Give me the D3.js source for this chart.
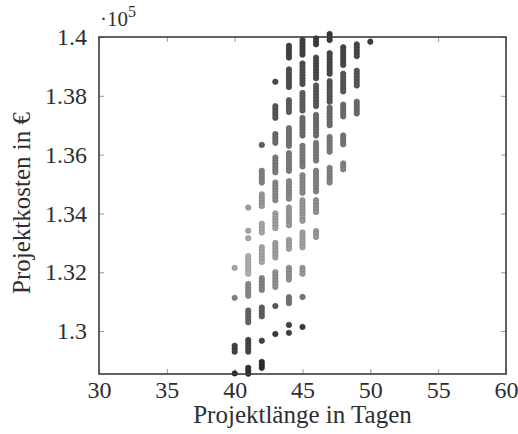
<!DOCTYPE html>
<html>
<head>
<meta charset="utf-8">
<script src="https://cdn.jsdelivr.net/npm/d3@7"></script>
<style>
  html, body { margin: 0; background: #fff; }
  svg text { font-family: "Liberation Serif", "Times New Roman", serif; fill: #2e2e2e; }
</style>
</head>
<body>
<svg id="chart" width="518" height="434"></svg>
<script>
// ----------------------------------------------------------
// Data (costs in thousand €, shade 0 = dark .. 1 = light)
// ----------------------------------------------------------

const X_TICKS = [30, 35, 40, 45, 50, 55, 60];
const Y_TICKS = [130, 132, 134, 136, 138, 140];
const X_LABEL = 'Projektlänge in Tagen';
const Y_LABEL = 'Projektkosten in €';

// [day, shade, costs...]
const col40 = [
  [40, 0.85, [132.15]],
  [40, 0.6, [131.13]],
  [40, 0.15, [129.5, 129.4, 129.3]],
  [40, 0.0, [128.56]],
];
const col41 = [
  [41, 0.8, [134.2]],
  [41, 0.85, [133.41, 133.16]],
  [41, 0.9, [132.55, 132.45, 132.35, 132.25, 132.15, 132.05, 131.95]],
  [41, 0.65, [131.6, 131.5, 131.4, 131.3, 131.2]],
  [41, 0.4, [130.7, 130.6, 130.5, 130.4, 130.3]],
  [41, 0.18, [129.7, 129.6, 129.5, 129.4, 129.3]],
  [41, 0.05, [128.75, 128.65, 128.55]],
];
const col42 = [
  [42, 0.35, [136.33]],
  [42, 0.6, [135.45, 135.35, 135.25, 135.15, 135.05]],
  [42, 0.75, [134.65, 134.55, 134.45, 134.35, 134.25]],
  [42, 0.85, [133.65, 133.55, 133.45, 133.35]],
  [42, 0.85, [132.85, 132.75, 132.65, 132.55, 132.45, 132.35]],
  [42, 0.6, [131.8, 131.7, 131.6, 131.5, 131.4]],
  [42, 0.35, [130.8, 130.7, 130.6, 130.5]],
  [42, 0.15, [129.67]],
  [42, 0.0, [128.95, 128.85, 128.75]],
];
const col43 = [
  [43, 0.2, [138.48]],
  [43, 0.3, [137.65, 137.55, 137.45, 137.35, 137.25]],
  [43, 0.45, [136.7, 136.6, 136.5, 136.4]],
  [43, 0.55, [135.9, 135.8, 135.7, 135.6, 135.5, 135.4]],
  [43, 0.65, [135.05, 134.95, 134.85, 134.75, 134.65, 134.55, 134.45]],
  [43, 0.8, [134.0, 133.9, 133.8, 133.7, 133.6, 133.5]],
  [43, 0.8, [133.0, 132.9, 132.8, 132.7, 132.6, 132.5]],
  [43, 0.7, [132.0, 131.9, 131.8, 131.7, 131.6, 131.5]],
  [43, 0.3, [130.85]],
  [43, 0.12, [129.9]],
];
const col44 = [
  [44, 0.15, [139.7, 139.6, 139.5, 139.4, 139.3]],
  [44, 0.25, [138.9, 138.8, 138.7, 138.6, 138.5, 138.4, 138.3]],
  [44, 0.35, [137.85, 137.75, 137.65, 137.55, 137.45]],
  [44, 0.5, [136.9, 136.8, 136.7, 136.6, 136.5, 136.4, 136.3]],
  [44, 0.55, [136.05, 135.95, 135.85, 135.75, 135.65, 135.55, 135.45]],
  [44, 0.65, [135.1, 135.0, 134.9, 134.8, 134.7, 134.6, 134.5]],
  [44, 0.75, [134.2, 134.1, 134.0, 133.9, 133.8, 133.7, 133.6]],
  [44, 0.8, [133.1, 133.0, 132.9, 132.8]],
  [44, 0.7, [132.15, 132.05, 131.95, 131.85, 131.75]],
  [44, 0.5, [131.15, 131.05, 130.95]],
  [44, 0.15, [130.21, 129.94]],
];
const col45 = [
  [45, 0.15, [139.9, 139.8, 139.7, 139.6, 139.5, 139.4]],
  [45, 0.25, [139.1, 139.0, 138.9, 138.8, 138.7, 138.6, 138.5, 138.4]],
  [45, 0.35, [138.1, 138.0, 137.9, 137.8, 137.7, 137.6, 137.5]],
  [45, 0.45, [137.25, 137.15, 137.05, 136.95, 136.85, 136.75, 136.65]],
  [45, 0.55, [136.3, 136.2, 136.1, 136.0, 135.9, 135.8, 135.7, 135.6]],
  [45, 0.65, [135.3, 135.2, 135.1, 135.0, 134.9, 134.8, 134.7]],
  [45, 0.75, [134.45, 134.35, 134.25, 134.15, 134.05, 133.95, 133.85, 133.75]],
  [45, 0.8, [133.35, 133.25, 133.15, 133.05, 132.95, 132.85]],
  [45, 0.75, [132.15, 132.05, 131.95]],
  [45, 0.5, [131.16]],
  [45, 0.12, [130.14]],
];
const col46 = [
  [46, 0.1, [139.95, 139.85, 139.75]],
  [46, 0.2, [139.3, 139.2, 139.1, 139.0, 138.9, 138.8, 138.7, 138.6]],
  [46, 0.3, [138.35, 138.25, 138.15, 138.05, 137.95, 137.85, 137.75, 137.65]],
  [46, 0.45, [137.35, 137.25, 137.15, 137.05, 136.95, 136.85, 136.75, 136.65]],
  [46, 0.55, [136.4, 136.3, 136.2, 136.1, 136.0, 135.9, 135.8]],
  [46, 0.6, [135.45, 135.35, 135.25, 135.15, 135.05, 134.95, 134.85, 134.75]],
  [46, 0.7, [134.45, 134.35, 134.25, 134.15, 134.05]],
  [46, 0.75, [133.4, 133.3, 133.2]],
];
const col47 = [
  [47, 0.1, [140.1, 140.0, 139.9]],
  [47, 0.2, [139.45, 139.35, 139.25, 139.15, 139.05, 138.95, 138.85, 138.75]],
  [47, 0.3, [138.5, 138.4, 138.3, 138.2, 138.1, 138.0, 137.9, 137.8]],
  [47, 0.45, [137.6, 137.5, 137.4, 137.3, 137.2, 137.1, 137.0]],
  [47, 0.55, [136.6, 136.5, 136.4, 136.3, 136.2, 136.1]],
  [47, 0.6, [135.55, 135.45, 135.35, 135.25, 135.15, 135.05]],
];
const col48 = [
  [48, 0.2, [139.65, 139.55, 139.45, 139.35, 139.25, 139.15, 139.05]],
  [48, 0.3, [138.75, 138.65, 138.55, 138.45, 138.35, 138.25, 138.15]],
  [48, 0.45, [137.7, 137.6, 137.5, 137.4, 137.3]],
  [48, 0.5, [136.65, 136.55, 136.45, 136.35]],
  [48, 0.6, [135.7, 135.6, 135.5]],
];
const col49 = [
  [49, 0.2, [139.75, 139.65, 139.55, 139.45, 139.35]],
  [49, 0.3, [138.85, 138.75, 138.65, 138.55, 138.45, 138.35]],
  [49, 0.45, [137.8, 137.7, 137.6, 137.5, 137.4]],
];
const col50 = [
  [50, 0.1, [139.84]],
];

// ----------------------------------------------------------
// Chart
// ----------------------------------------------------------

const margin = { left: 99, right: 12, top: 37, bottom: 60 };
const width = 518, height = 434;

const svg = d3.select('#chart');

const x = d3.scaleLinear().domain([30, 60]).range([margin.left, width - margin.right]);
const y = d3.scaleLinear().domain([128.54, 140]).range([height - margin.bottom, margin.top]);
const shade = d3.scaleLinear().domain([0, 1]).range(['#2b2b2b', '#bcbcbc']);

const points = [];
[col40, col41, col42, col43, col44, col45, col46, col47, col48, col49, col50].forEach((col) => {
  col.forEach(([day, s, costs]) => {
    costs.forEach((c) => points.push({ day, cost: c, shade: s }));
  });
});

// ticks (inward, all four sides)
const tickLen = 5;
const x0 = x.range()[0], x1 = x.range()[1];
const y0 = y.range()[0], y1 = y.range()[1];

svg.append('g')
  .attr('transform', 'translate(0,' + y0 + ')')
  .call(d3.axisBottom(x).tickValues(X_TICKS).tickSize(-tickLen).tickPadding(7).tickFormat(d3.format('d')))
  .call((g) => g.select('.domain').remove())
  .call((g) => g.selectAll('line').attr('stroke', '#9a9a9a'))
  .call((g) => g.selectAll('text').style('font-size', '24px'));

svg.append('g')
  .attr('transform', 'translate(0,' + y1 + ')')
  .call(d3.axisTop(x).tickValues(X_TICKS).tickSize(-tickLen).tickFormat(''))
  .call((g) => g.select('.domain').remove())
  .call((g) => g.selectAll('line').attr('stroke', '#9a9a9a'));

svg.append('g')
  .attr('transform', 'translate(' + x0 + ',0)')
  .call(d3.axisLeft(y).tickValues(Y_TICKS).tickSize(-tickLen).tickPadding(12).tickFormat((d) => String(d / 100)))
  .call((g) => g.select('.domain').remove())
  .call((g) => g.selectAll('line').attr('stroke', '#9a9a9a'))
  .call((g) => g.selectAll('text').style('font-size', '24px'));

svg.append('g')
  .attr('transform', 'translate(' + x1 + ',0)')
  .call(d3.axisRight(y).tickValues(Y_TICKS).tickSize(-tickLen).tickFormat(''))
  .call((g) => g.select('.domain').remove())
  .call((g) => g.selectAll('line').attr('stroke', '#9a9a9a'));

// points
svg.append('g')
  .selectAll('circle')
  .data(points)
  .enter()
  .append('circle')
  .attr('cx', (d) => x(d.day))
  .attr('cy', (d) => y(d.cost))
  .attr('r', 2.7)
  .attr('fill', (d) => shade(d.shade))
  .attr('stroke', (d) => d3.color(shade(d.shade)).darker(0.5))
  .attr('stroke-width', 0.7);

// frame
svg.append('rect')
  .attr('x', x0)
  .attr('y', y1)
  .attr('width', x1 - x0)
  .attr('height', y0 - y1)
  .attr('fill', 'none')
  .attr('stroke', '#3c3c3c')
  .attr('stroke-width', 1.6);

// exponent marker
const expo = svg.append('text')
  .attr('x', x0 + 1)
  .attr('y', y1 - 11)
  .style('font-size', '21px');
expo.append('tspan').text('·10');
expo.append('tspan').attr('dy', -9).style('font-size', '16px').text('5');

// axis labels
svg.append('text')
  .attr('x', (x0 + x1) / 2)
  .attr('y', 423)
  .attr('text-anchor', 'middle')
  .style('font-size', '25px')
  .text(X_LABEL);

svg.append('text')
  .attr('transform', 'translate(30,203) rotate(-90)')
  .attr('text-anchor', 'middle')
  .style('font-size', '25px')
  .text(Y_LABEL);
</script>
</body>
</html>
